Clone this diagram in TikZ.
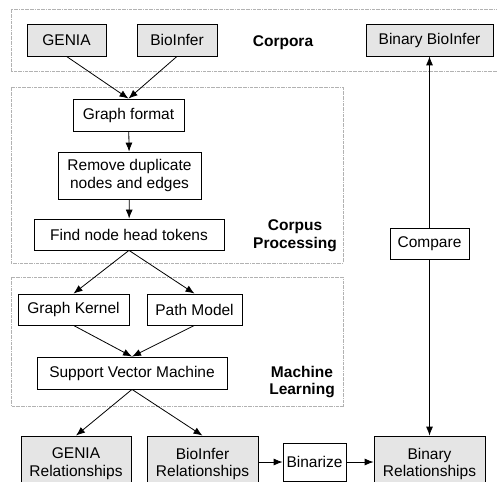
\documentclass[tikz,border=0pt]{standalone}
\usepackage{fontspec}
\setmainfont{Liberation Sans}
\usetikzlibrary{arrows.meta}

\begin{document}
\begin{tikzpicture}
        [
            x=1pt, y=-1pt,
            font=\fontsize{15.5}{17.7}\selectfont,
            box/.style={draw, rectangle, inner sep=0pt, align=center, line width=0.8pt},
            data/.style={box, fill=black!10},
            group/.style={draw=black!30, densely dashdotted, line width=1pt},
            label/.style={font=\fontsize{15.5}{17.7}\selectfont\bfseries, align=center},
            link/.style={-{Latex[length=9pt, width=7pt]}, line width=0.8pt},
        ]
        \clip (0,0) rectangle (497,481);
        % group frames
        \draw[group] (11,10) rectangle (498,72);
        \draw[group] (11,88) rectangle (343,263);
        \draw[group] (11,277) rectangle (343,406);
        % corpora
        \node[data, minimum width=79pt, minimum height=32pt] (genia) at (66.5,40) {GENIA};
        \node[data, minimum width=80pt, minimum height=32pt] (bioinfer) at (177,40) {BioInfer};
        \node[label] (corpora) at (283,43) {Corpora};
        \node[data, minimum width=127pt, minimum height=32pt] (binbio) at (429.5,40) {Binary BioInfer};
        % corpus processing
        \node[box, minimum width=111pt, minimum height=32pt] (graph) at (128.5,115) {Graph format};
        \node[box, minimum width=143pt, minimum height=47pt] (dup) at (129.5,175.5) {Remove duplicate\\nodes and edges};
        \node[box, minimum width=190pt, minimum height=31pt] (head) at (129,234.5) {Find node head tokens};
        \node[label] (corpusproc) at (295,236) {Corpus\\Processing};
        \node[box, minimum width=79pt, minimum height=31pt] (compare) at (429.5,243.5) {Compare};
        % machine learning
        \node[box, minimum width=111pt, minimum height=31pt] (kernel) at (73.5,309.5) {Graph Kernel};
        \node[box, minimum width=95pt, minimum height=31pt] (path) at (194.5,309.5) {Path Model};
        \node[box, minimum width=190pt, minimum height=32pt] (svm) at (132,373) {Support Vector Machine};
        \node[label] (ml) at (302,382) {Machine\\Learning};
        % results
        \node[data, minimum width=110pt, minimum height=56pt] (geniarel) at (76,464) {GENIA\\Relationships};
        \node[data, minimum width=111pt, minimum height=56pt] (biorel) at (202.5,464) {BioInfer\\Relationships};
        \node[box, minimum width=63pt, minimum height=38pt] (binarize) at (314.5,462) {Binarize};
        \node[data, minimum width=111pt, minimum height=56pt] (binrel) at (429.5,464) {Binary\\Relationships};

        \draw[link] (genia.south) -- (graph.north);
        \draw[link] (bioinfer.south) -- (graph.north);
        \draw[link] (graph) -- (dup);
        \draw[link] (dup) -- (head);
        \draw[link] (head.south) -- (kernel.north);
        \draw[link] (head.south) -- (path.north);
        \draw[link] (kernel.south) -- (svm.north);
        \draw[link] (path.south) -- (svm.north);
        \draw[link] (svm.south) -- (geniarel.north);
        \draw[link] (svm.south) -- (biorel.north);
        \draw[link] (biorel.east |- binarize) -- (binarize);
        \draw[link] (binarize) -- (binrel.west |- binarize);
        \draw[link] (compare) -- (binbio);
        \draw[link] (compare) -- (binrel);
    \end{tikzpicture}
\end{document}
